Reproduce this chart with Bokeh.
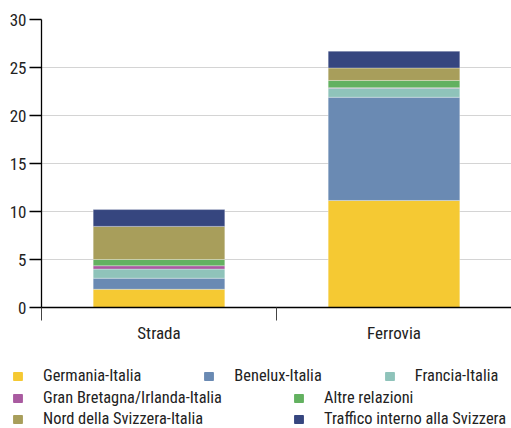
from bokeh.plotting import figure
from bokeh.models import (ColumnDataSource, Range1d, FixedTicker, LinearAxis,
                          Legend, LegendItem)
from bokeh.embed import file_html
from bokeh.resources import INLINE

categories = ["Strada", "Ferrovia"]
series = ["Germania-Italia", "Benelux-Italia", "Francia-Italia",
          "Gran Bretagna/Irlanda-Italia", "Altre relazioni",
          "Nord della Svizzera-Italia", "Traffico interno alla Svizzera"]
germania = [1.9, 11.15]
benelux = [1.15, 10.75]
francia = [0.95, 0.95]
gran_bretagna = [0.35, 0.05]
altre = [0.65, 0.75]
nord = [3.45, 1.3]
traffico = [1.75, 1.75]
colors = ["#F5C933", "#6A8AB3", "#8FC3BA", "#A95BA0", "#63B160", "#A89E5B", "#36467F"]
y_ticks = [0, 5, 10, 15, 20, 25, 30]

FONT = "'Roboto Condensed', 'Liberation Sans Narrow', 'DejaVu Sans Condensed', sans-serif"

keys = ["s%d" % i for i in range(len(series))]
data = {"x": [i + 0.5 for i in range(len(categories))]}
for k, vals in zip(keys, [germania, benelux, francia, gran_bretagna, altre, nord, traffico]):
    data[k] = vals
source = ColumnDataSource(data)

p = figure(frame_width=470, frame_height=288, output_backend="svg", toolbar_location=None,
           x_range=Range1d(0, len(categories)), y_range=Range1d(0, 30),
           min_border_left=41, min_border_top=19, min_border_right=0,
           min_border_bottom=40, x_axis_type=None)
p.outline_line_color = None

renderers = p.vbar_stack(keys, x="x", width=0.56, color=colors, source=source,
                         line_color="white", line_width=0.6, line_alpha=0.5)

# y axis
ya = p.yaxis[0]
ya.ticker = FixedTicker(ticks=y_ticks)
ya.major_tick_out = 12
ya.major_tick_in = 0
ya.minor_tick_line_color = None
ya.axis_line_color = "black"
ya.axis_line_width = 1.3
ya.major_tick_line_width = 1.3
ya.major_label_text_font = FONT
ya.major_label_text_font_size = "17px"
ya.major_label_text_color = "#222222"
ya.major_label_standoff = 3
p.ygrid.ticker = FixedTicker(ticks=y_ticks[1:])
p.ygrid.grid_line_color = "#d4d4d4"
p.ygrid.grid_line_width = 1.2
p.xgrid.grid_line_color = None

# x axis: boundary ticks
xa = LinearAxis(ticker=FixedTicker(ticks=list(range(len(categories) + 1))))
xa.major_label_overrides = {i: "" for i in range(len(categories) + 1)}
xa.major_label_text_font_size = "0px"
xa.major_label_standoff = 0
xa.major_tick_out = 13
xa.major_tick_in = 0
xa.minor_tick_line_color = None
xa.axis_line_color = "black"
xa.axis_line_width = 1.3
xa.major_tick_line_color = "#444444"
xa.major_tick_line_width = 1
p.add_layout(xa, "below")

# x axis: category labels
xl = LinearAxis(ticker=FixedTicker(ticks=data["x"]))
xl.major_label_overrides = {x: c for x, c in zip(data["x"], categories)}
xl.axis_line_color = None
xl.major_tick_line_color = None
xl.minor_tick_line_color = None
xl.major_tick_out = 0
xl.major_label_standoff = 2
xl.major_label_text_font = FONT
xl.major_label_text_font_size = "17px"
xl.major_label_text_color = "#222222"
p.add_layout(xl, "below")

# legend figure (separate root, below the chart)
lf = figure(width=511, height=81, output_backend="svg", toolbar_location=None,
            x_range=Range1d(0, 1), y_range=Range1d(0, 1), min_border=0,
            x_axis_type=None, y_axis_type=None)
lf.outline_line_color = None
lf.xgrid.grid_line_color = None
lf.ygrid.grid_line_color = None
leg_renderers = [lf.vbar(x="x", top=k, width=0.56, color=c, source=source, visible=False)
                 for k, c in zip(keys, colors)]
items = [LegendItem(label=s, renderers=[r]) for s, r in zip(series, leg_renderers)]

def make_legend(its, spacing, loc, label_width=20):
    return Legend(items=its, orientation="horizontal", location=loc,
                  spacing=spacing, padding=0, margin=0, border_line_color=None,
                  background_fill_alpha=0, glyph_width=11, glyph_height=10,
                  label_standoff=20, label_width=label_width,
                  label_text_font=FONT, label_text_font_size="16.4px",
                  label_text_color="#222222", click_policy="none")

lg1 = make_legend(items[0:3], 62, (12, 43))
lg2 = make_legend(items[3:5], 66, (12, 21), label_width=184)
lg3 = make_legend(items[5:7], 66, (12, 0), label_width=184)
for lg in (lg1, lg2, lg3):
    lf.add_layout(lg, "center")

open("out.html", "w").write(file_html([p, lf], INLINE))
